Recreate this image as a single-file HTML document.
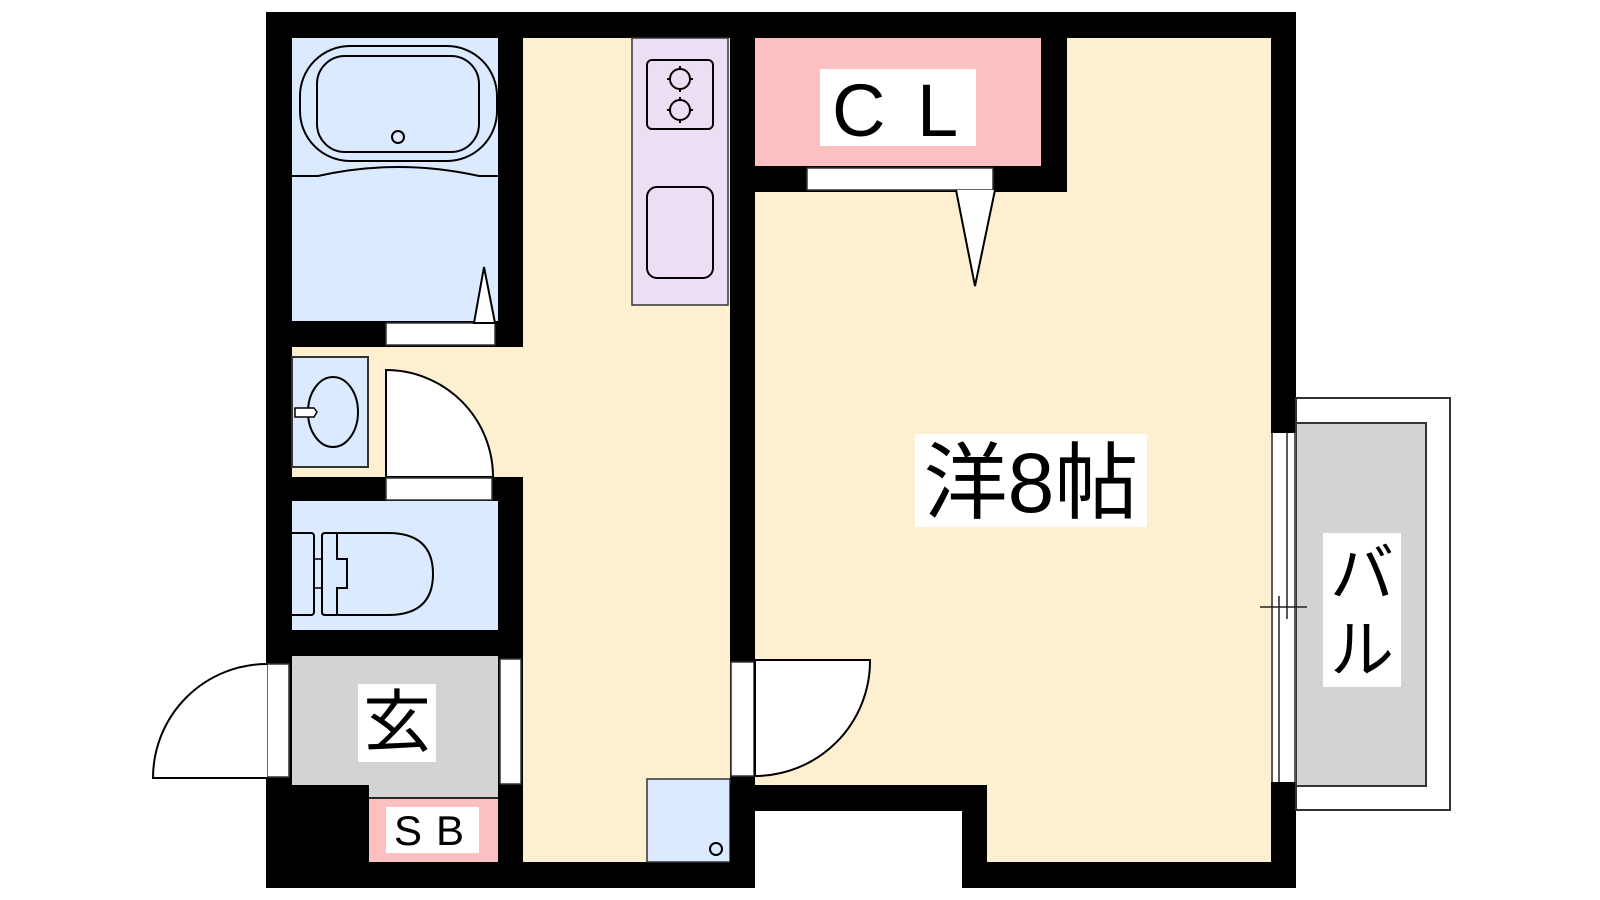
<!DOCTYPE html>
<html><head><meta charset="utf-8"><style>
html,body{margin:0;padding:0;background:#fff;}
svg{display:block;}
text{font-family:"Liberation Sans","Noto Sans CJK JP",sans-serif;}
</style></head><body>
<svg width="1600" height="900" viewBox="0 0 1600 900" xmlns="http://www.w3.org/2000/svg">
<rect width="1600" height="900" fill="#fff"/>
<rect x="266" y="12" width="1030" height="876" fill="#000"/>
<rect x="292" y="38" width="206" height="283" fill="#dbeafe"/>
<rect x="523" y="38" width="207" height="824" fill="#fdf0d0"/>
<rect x="292" y="347" width="231" height="130" fill="#fdf0d0"/>
<rect x="632" y="38" width="96" height="267" fill="#ecdff4" stroke="#333" stroke-width="1.5"/>
<rect x="647" y="60" width="66" height="69" rx="5" fill="none" stroke="#000" stroke-width="2"/>
<circle cx="680" cy="79" r="10" fill="none" stroke="#000" stroke-width="2"/>
<circle cx="680" cy="110" r="10" fill="none" stroke="#000" stroke-width="2"/>
<g stroke="#000" stroke-width="2"><line x1="680" y1="66" x2="680" y2="70"/><line x1="680" y1="88" x2="680" y2="92"/><line x1="667" y1="79" x2="671" y2="79"/><line x1="689" y1="79" x2="693" y2="79"/>
<line x1="680" y1="97" x2="680" y2="101"/><line x1="680" y1="119" x2="680" y2="123"/><line x1="667" y1="110" x2="671" y2="110"/><line x1="689" y1="110" x2="693" y2="110"/></g>
<rect x="647" y="187" width="66" height="91" rx="10" fill="none" stroke="#000" stroke-width="2"/>
<rect x="300" y="46" width="197" height="115" rx="50" fill="none" stroke="#000" stroke-width="2"/>
<rect x="317" y="56" width="162" height="96" rx="28" fill="none" stroke="#000" stroke-width="2"/>
<ellipse cx="398" cy="137" rx="6" ry="6" fill="none" stroke="#000" stroke-width="2"/>
<path d="M292 176 L318 176 Q398 158 479 176 L498 176" fill="none" stroke="#000" stroke-width="2"/>
<rect x="386" y="323" width="109" height="22" fill="#fff" stroke="#333" stroke-width="1.5"/>
<path d="M474 323 L484 267 L495 323 Z" fill="#fff" stroke="#000" stroke-width="2"/>
<rect x="292" y="357" width="76" height="110" fill="#dbeafe" stroke="#333" stroke-width="2"/>
<ellipse cx="333" cy="412" rx="25" ry="35" fill="none" stroke="#000" stroke-width="2"/>
<path d="M295 408 L314 408 L317 412 L314 417 L295 417 Z" fill="#fff" stroke="#000" stroke-width="1.5"/>
<path d="M386 477 L386 370 A107 107 0 0 1 493 477 Z" fill="#fff" stroke="#000" stroke-width="2"/>
<rect x="386" y="478" width="106" height="22" fill="#fff" stroke="#333" stroke-width="1.5"/>
<rect x="292" y="501" width="206" height="129" fill="#dbeafe"/>
<rect x="285" y="533" width="29" height="82" rx="3" fill="none" stroke="#000" stroke-width="2"/>
<rect x="314" y="559" width="8" height="29" fill="none" stroke="#000" stroke-width="1.5"/>
<path d="M325 533 L388 533 Q433 533 433 574 Q433 615 388 615 L325 615 Q322 615 322 612 L322 536 Q322 533 325 533 Z" fill="none" stroke="#000" stroke-width="2"/>
<path d="M337 533 L337 559 L347 559 L347 588 L337 588 L337 615" fill="none" stroke="#000" stroke-width="2"/>
<rect x="292" y="656" width="206" height="129" fill="#d3d3d3"/>
<rect x="369" y="784" width="129" height="13" fill="#d3d3d3"/>
<line x1="369" y1="798" x2="498" y2="798" stroke="#333" stroke-width="1.5"/>
<rect x="369" y="799" width="129" height="63" fill="#fdc0c0"/>
<rect x="386" y="807" width="93" height="46" fill="#fff"/>
<text x="394" y="845" font-size="42">S</text>
<text x="436" y="845" font-size="42">B</text>
<rect x="358" y="684" width="78" height="78" fill="#fff"/>
<text x="397" y="746" font-size="68" text-anchor="middle">玄</text>
<rect x="500" y="659" width="21" height="125" fill="#fff" stroke="#333" stroke-width="1.5"/>
<rect x="267" y="664" width="22" height="113" fill="#fff" stroke="#333" stroke-width="1.5"/>
<path d="M267 778 L153 778 A114 114 0 0 1 267 664" fill="#fff" stroke="#000" stroke-width="2"/>
<rect x="647" y="779" width="83" height="83" fill="#dbeafe" stroke="#333" stroke-width="1.5"/>
<circle cx="716" cy="849" r="6" fill="none" stroke="#000" stroke-width="2"/>
<rect x="755" y="38" width="516" height="824" fill="#fdf0d0"/>
<rect x="755" y="38" width="286" height="128" fill="#fdc0c0"/>
<rect x="1041" y="38" width="26" height="154" fill="#000"/>
<rect x="755" y="166" width="312" height="26" fill="#000"/>
<rect x="807" y="168" width="186" height="22" fill="#fff" stroke="#333" stroke-width="1.5"/>
<path d="M956 190 L975 286 L995 190" fill="#fff" stroke="#000" stroke-width="2"/>
<rect x="820" y="69" width="156" height="77" fill="#fff"/>
<text x="832" y="136" font-size="74">C</text>
<text x="917" y="136" font-size="74">L</text>
<rect x="731" y="662" width="23" height="114" fill="#fff" stroke="#333" stroke-width="1.5"/>
<path d="M755 660 L870 660 A115 115 0 0 1 755 776 Z" fill="#fff" stroke="#000" stroke-width="2"/>
<rect x="730" y="785" width="257" height="103" fill="#000"/>
<rect x="755" y="811" width="207" height="80" fill="#fff"/>
<rect x="915" y="434" width="232" height="93" fill="#fff"/>
<text x="1031" y="512" font-size="84" text-anchor="middle">洋8帖</text>
<rect x="1296" y="398" width="154" height="412" fill="#fff" stroke="#333" stroke-width="2"/>
<rect x="1296" y="423" width="130" height="363" fill="#d3d3d3" stroke="#333" stroke-width="2"/>
<rect x="1271" y="433" width="25" height="349" fill="#fff"/>
<g stroke="#222" stroke-width="1.5">
<line x1="1272" y1="433" x2="1272" y2="782"/>
<line x1="1295" y1="433" x2="1295" y2="782"/>
<line x1="1279" y1="596" x2="1279" y2="782"/>
<line x1="1287" y1="433" x2="1287" y2="619"/>
<line x1="1260" y1="607" x2="1307" y2="607"/>
</g>
<rect x="1323" y="533" width="78" height="154" fill="#fff"/>
<text x="1362" y="596" font-size="64" text-anchor="middle">バ</text>
<text x="1362" y="672" font-size="64" text-anchor="middle">ル</text>
</svg>
</body></html>
